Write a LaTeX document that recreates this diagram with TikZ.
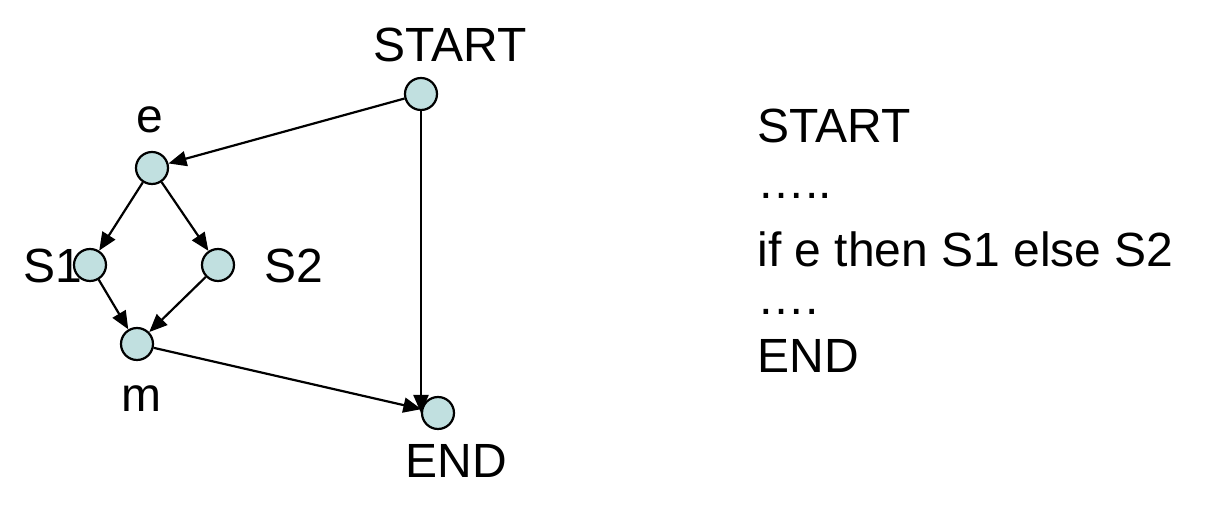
\documentclass[tikz,border=0pt]{standalone}
\usepackage{fontspec}
\setmainfont{Liberation Sans}
\usetikzlibrary{arrows.meta}

\definecolor{vertexfill}{RGB}{193,224,224}

\tikzset{
  vertex/.style={circle,draw=black,line width=1.1pt,fill=vertexfill,minimum size=16pt,inner sep=0pt},
  flow/.style={line width=1.1pt,-{Triangle[length=9pt,width=7.5pt]}},
  tag/.style={anchor=base,inner sep=0pt,font=\fontsize{24}{28}\selectfont},
  codeline/.style={anchor=base west,inner sep=0pt,font=\fontsize{24}{28}\selectfont}
}

\begin{document}
\begin{tikzpicture}[x=0.5pt,y=-0.5pt]
\useasboundingbox (0,0) rectangle (1228,512);

% Define the column of the program text
\pgfmathsetmacro{\Xcode}{757};

% the vertices of the flow graph
\node[vertex] (start) at (421,94) {};
\node[vertex] (e) at (152,168) {};
\node[vertex] (s1) at (90,265) {};
\node[vertex] (s2) at (218,265) {};
\node[vertex] (m) at (137,344) {};
\node[vertex] (end) at (438,413) {};

% their labels
\node[tag] (startlabel) at (450,62) {START};
\node[tag] (elabel) at (150,133) {e};
\node[tag] (s1label) at (53,283) {S1};
\node[tag] (s2label) at (294,283) {S2};
\node[tag] (mlabel) at (141,412) {m};
\node[tag] (endlabel) at (456,478) {END};

% the edges
\draw[flow] (start) -- (e);
\draw[flow] (e) -- (s1);
\draw[flow] (e) -- (s2);
\draw[flow] (s1) -- (m);
\draw[flow] (s2) -- (m);
\draw[flow] (m) -- (end);
\draw[flow] (start) -- (start |- end.west);

%%%%%%%%%%%%%%%%%%%%%%%%%%%%%%%%%%%%%%%%%%%%%%%%%%%%%%%%%%%%%%%%%%%%%%%%%%%%
\node[codeline] (code1) at (\Xcode,143) {START};
\node[codeline] (code2) at (\Xcode,199) {…..};
\node[codeline] (code3) at (\Xcode,267) {if e then S1 else S2};
\node[codeline] (code4) at (\Xcode,315) {….};
\node[codeline] (code5) at (\Xcode,373) {END};
\end{tikzpicture}
\end{document}
